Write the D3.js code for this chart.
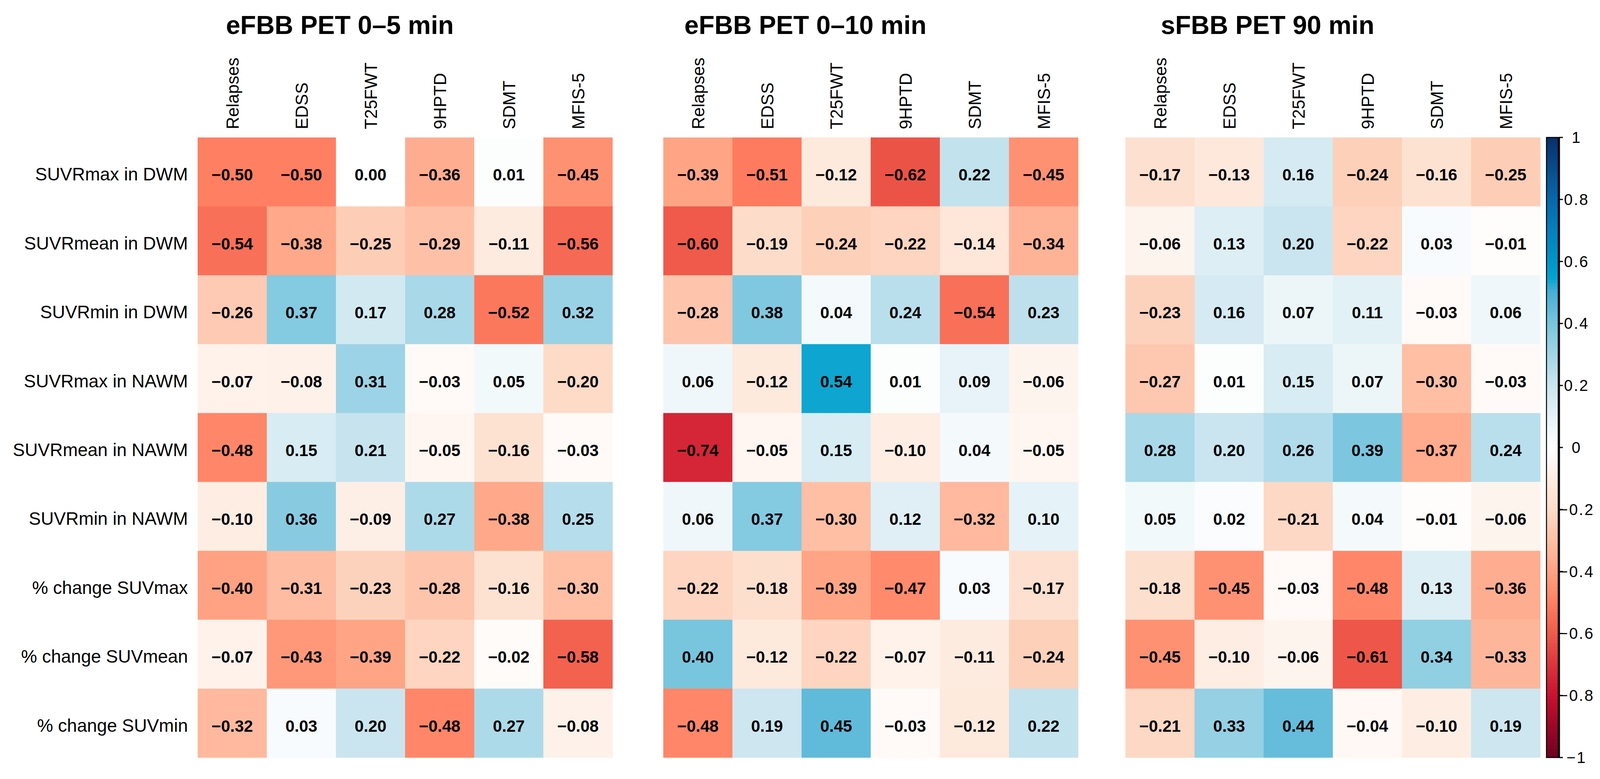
<!DOCTYPE html>
<html>
<head>
<meta charset="utf-8">
<script src="https://cdn.jsdelivr.net/npm/d3@7"></script>
<style>
body { margin: 0; background: #fff; }
text { font-family: "Liberation Sans", Arial, sans-serif; fill: #000; }
</style>
</head>
<body>
<svg id="chart" width="4106" height="1995"></svg>
<script>
// columns / rows of each correlation matrix
var outcomes = ["Relapses", "EDSS", "T25FWT", "9HPTD", "SDMT", "MFIS-5"];
var measures = ["SUVRmax in DWM", "SUVRmean in DWM", "SUVRmin in DWM",
  "SUVRmax in NAWM", "SUVRmean in NAWM", "SUVRmin in NAWM",
  "% change SUVmax", "% change SUVmean", "% change SUVmin"];
var titles = ["eFBB PET 0\u20135 min", "eFBB PET 0\u201310 min", "sFBB PET 90 min"];

var early5 = [
  [-0.50, -0.50, 0.00, -0.36, 0.01, -0.45],
  [-0.54, -0.38, -0.25, -0.29, -0.11, -0.56],
  [-0.26, 0.37, 0.17, 0.28, -0.52, 0.32],
  [-0.07, -0.08, 0.31, -0.03, 0.05, -0.20],
  [-0.48, 0.15, 0.21, -0.05, -0.16, -0.03],
  [-0.10, 0.36, -0.09, 0.27, -0.38, 0.25],
  [-0.40, -0.31, -0.23, -0.28, -0.16, -0.30],
  [-0.07, -0.43, -0.39, -0.22, -0.02, -0.58],
  [-0.32, 0.03, 0.20, -0.48, 0.27, -0.08]
];
var early10 = [
  [-0.39, -0.51, -0.12, -0.62, 0.22, -0.45],
  [-0.60, -0.19, -0.24, -0.22, -0.14, -0.34],
  [-0.28, 0.38, 0.04, 0.24, -0.54, 0.23],
  [0.06, -0.12, 0.54, 0.01, 0.09, -0.06],
  [-0.74, -0.05, 0.15, -0.10, 0.04, -0.05],
  [0.06, 0.37, -0.30, 0.12, -0.32, 0.10],
  [-0.22, -0.18, -0.39, -0.47, 0.03, -0.17],
  [0.40, -0.12, -0.22, -0.07, -0.11, -0.24],
  [-0.48, 0.19, 0.45, -0.03, -0.12, 0.22]
];
var late90 = [
  [-0.17, -0.13, 0.16, -0.24, -0.16, -0.25],
  [-0.06, 0.13, 0.20, -0.22, 0.03, -0.01],
  [-0.23, 0.16, 0.07, 0.11, -0.03, 0.06],
  [-0.27, 0.01, 0.15, 0.07, -0.30, -0.03],
  [0.28, 0.20, 0.26, 0.39, -0.37, 0.24],
  [0.05, 0.02, -0.21, 0.04, -0.01, -0.06],
  [-0.18, -0.45, -0.03, -0.48, 0.13, -0.36],
  [-0.45, -0.10, -0.06, -0.61, 0.34, -0.33],
  [-0.21, 0.33, 0.44, -0.04, -0.10, 0.19]
];
var legendTicks = [1, 0.8, 0.6, 0.4, 0.2, 0, -0.2, -0.4, -0.6, -0.8, -1];

var panels = [early5, early10, late90];
var panelLeft = [506, 1698, 2881];

var svg = d3.select("#chart"),
  gridTop = 352, gridBottom = 1940, gridW = 1062;

var color = d3.scaleLinear()
  .domain([-1, -0.8, -0.6, -0.5, -0.4, -0.2, 0, 0.2, 0.4, 0.5, 0.55, 0.8, 1])
  .range(["#6e0020", "#c8102e", "#f05a4a", "#ff7f62", "#ffa283", "#fddbc7", "#ffffff",
          "#cae5ef", "#78c5de", "#48afd6", "#00a2cf", "#0868ac", "#08306b"])
  .clamp(true);

var y = d3.scaleBand().domain(measures).range([gridTop, gridBottom]);
var fmt = function(v) { return d3.format(".2f")(v).replace("-", "\u2212"); };

panels.forEach(function(vals, p) {
  var x = d3.scaleBand().domain(outcomes).range([panelLeft[p], panelLeft[p] + gridW]);
  var g = svg.append("g");

  var cells = [];
  vals.forEach(function(row, i) {
    row.forEach(function(v, j) { cells.push({r: measures[i], c: outcomes[j], v: v}); });
  });

  g.selectAll("rect.cell")
    .data(cells)
    .enter().append("rect")
    .attr("class", "cell")
    .attr("x", function(d) { return x(d.c); })
    .attr("y", function(d) { return y(d.r); })
    .attr("width", x.bandwidth() + 0.5)
    .attr("height", y.bandwidth() + 0.5)
    .attr("fill", function(d) { return color(d.v); });

  g.selectAll("text.val")
    .data(cells)
    .enter().append("text")
    .attr("class", "val")
    .attr("x", function(d) { return x(d.c) + x.bandwidth() / 2; })
    .attr("y", function(d) { return y(d.r) + y.bandwidth() / 2 + 22; })
    .attr("text-anchor", "middle")
    .style("font-size", "42px")
    .style("font-weight", "bold")
    .text(function(d) { return fmt(d.v); });

  // column labels, rotated
  g.selectAll("text.col")
    .data(outcomes)
    .enter().append("text")
    .attr("class", "col")
    .attr("transform", function(d) {
      return "translate(" + (x(d) + x.bandwidth() / 2 + 16) + "," + (gridTop - 21) + ") rotate(-90)";
    })
    .style("font-size", "44px")
    .text(function(d) { return d; });

  svg.append("text")
    .attr("x", panelLeft[p] + 364)
    .attr("y", 87)
    .attr("text-anchor", "middle")
    .style("font-size", "66px")
    .style("font-weight", "bold")
    .text(titles[p]);

  if (p === 0) {
    g.selectAll("text.row")
      .data(measures)
      .enter().append("text")
      .attr("class", "row")
      .attr("x", panelLeft[p] - 25)
      .attr("y", function(d) { return y(d) + y.bandwidth() / 2 + 22; })
      .attr("text-anchor", "end")
      .style("font-size", "46px")
      .text(function(d) { return d; });
  }
});

// colour legend
var ly = d3.scaleLinear().domain([-1, 1]).range([gridBottom, gridTop]);
var lx = 3960, lw = 29;
var steps = d3.range(-1, 1, 0.01);
var leg = svg.append("g");
leg.selectAll("rect.step")
  .data(steps)
  .enter().append("rect")
  .attr("x", lx)
  .attr("y", function(d) { return ly(d + 0.01); })
  .attr("width", lw)
  .attr("height", function(d) { return ly(d) - ly(d + 0.01) + 0.6; })
  .attr("fill", function(d) { return color(d + 0.005); });

leg.append("rect")
  .attr("x", lx - 1).attr("y", ly(1))
  .attr("width", lw + 1).attr("height", ly(-1) - ly(1))
  .attr("fill", "none").attr("stroke", "#000").attr("stroke-width", 2.5);
leg.append("line")
  .attr("x1", lx + lw + 2).attr("x2", lx + lw + 2)
  .attr("y1", ly(1) - 1).attr("y2", ly(-1) + 1)
  .attr("stroke", "#000").attr("stroke-width", 5);

leg.selectAll("line.tick")
  .data(legendTicks)
  .enter().append("line")
  .attr("class", "tick")
  .attr("x1", lx + lw + 2).attr("x2", lx + lw + 12)
  .attr("y1", function(d) { return ly(d); })
  .attr("y2", function(d) { return ly(d); })
  .attr("stroke", "#000").attr("stroke-width", 3);

leg.selectAll("text.tl")
  .data(legendTicks)
  .enter().append("text")
  .attr("class", "tl")
  .attr("x", 4036)
  .attr("y", function(d) { return ly(d) + 14; })
  .attr("text-anchor", "middle")
  .style("font-size", "40px")
  .style("letter-spacing", "3px")
  .text(function(d) { return d === 0 ? "0" : String(d).replace("-", "\u2212"); });
</script>
</body>
</html>
